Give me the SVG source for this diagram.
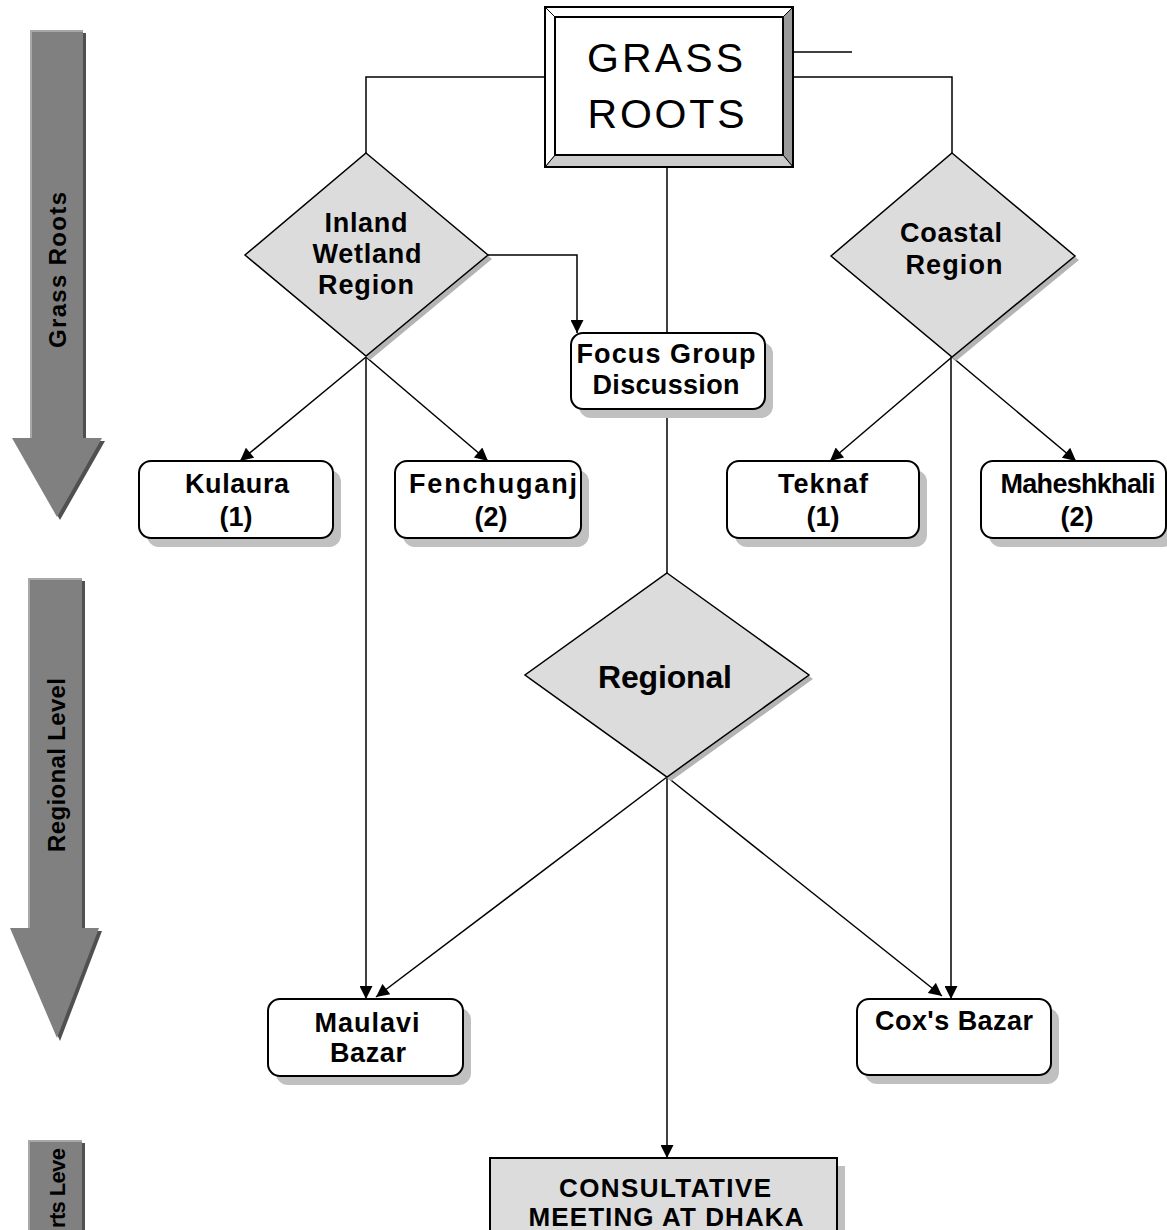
<svg xmlns="http://www.w3.org/2000/svg" width="1167" height="1230" viewBox="0 0 1167 1230">
<defs>
<marker id="ah" viewBox="0 0 10 10" refX="10" refY="5" markerWidth="15" markerHeight="13" markerUnits="userSpaceOnUse" orient="auto">
<path d="M0,0 L10,5 L0,10 z" fill="#000"/>
</marker>
<style>
.t{font-family:"Liberation Sans",Arial,sans-serif;font-weight:bold;font-size:27px;fill:#000;text-anchor:middle}
.big{font-family:"Liberation Sans",Arial,sans-serif;font-size:41px;fill:#000;text-anchor:middle}
.side{font-family:"Liberation Sans",Arial,sans-serif;font-weight:bold;font-size:24px;fill:#000;text-anchor:middle}
.box{fill:#fff;stroke:#000;stroke-width:2}
.sh{fill:#c0c0c0}
.dia{fill:#dcdcdc;stroke:#000;stroke-width:1.5}
.dsh{fill:#b4b4b4}
.ln{fill:none;stroke:#000;stroke-width:1.5}
.arr{fill:#808080}
.ash{fill:#505050}
.ahl{fill:#a8a8a8}
</style>
</defs>
<rect width="1167" height="1230" fill="#fff"/>

<g id="side-arrows">
<g id="arrow-grass">
<polygon class="ash" points="33,33 86,33 86,441 105,441 60,520 15,441 33,441"/>
<polygon class="arr" points="30,30 83,30 83,438 102,438 57,517 12,438 30,438"/>
<polygon class="ahl" points="30,30 83,30 83,32 32,32 32,438 30,438"/>
<text class="side" transform="translate(66,270) rotate(-90)" textLength="156" lengthAdjust="spacing">Grass Roots</text>
</g>
<g id="arrow-regional">
<polygon class="ash" points="31,581 85,581 85,931 102,931 60,1041 13,931 31,931"/>
<polygon class="arr" points="28,578 82,578 82,928 99,928 57,1038 10,928 28,928"/>
<polygon class="ahl" points="28,578 82,578 82,580 30,580 30,928 28,928"/>
<text class="side" transform="translate(65,765) rotate(-90)" textLength="174" lengthAdjust="spacing">Regional Level</text>
</g>
<g id="arrow-experts">
<rect class="ash" x="31" y="1143" width="54" height="90"/>
<rect class="arr" x="28" y="1140" width="54" height="92"/>
<rect class="ahl" x="28" y="1140" width="54" height="2"/>
<rect class="ahl" x="28" y="1140" width="2" height="92"/>
<text class="side" style="text-anchor:start;font-size:22px" transform="translate(65,1228) rotate(-90)" textLength="80" lengthAdjust="spacing">rts Leve</text>
</g>
</g>

<g id="connectors">
<path class="ln" d="M545,77 H366 V153"/>
<path class="ln" d="M793,77 H952 V153"/>
<path class="ln" d="M793,52 H852"/>
<path class="ln" d="M667,167 V333"/>
<path class="ln" d="M488,255 H577 V333" marker-end="url(#ah)"/>
<path class="ln" d="M366,357 L240,461" marker-end="url(#ah)"/>
<path class="ln" d="M366,357 L488,461" marker-end="url(#ah)"/>
<path class="ln" d="M366,357 V999" marker-end="url(#ah)"/>
<path class="ln" d="M952,357 L830,461" marker-end="url(#ah)"/>
<path class="ln" d="M952,357 L1076,461" marker-end="url(#ah)"/>
<path class="ln" d="M951,357 V999" marker-end="url(#ah)"/>
<path class="ln" d="M667,409 V573"/>
<path class="ln" d="M667,777 L376,997" marker-end="url(#ah)"/>
<path class="ln" d="M667,777 L942,996" marker-end="url(#ah)"/>
<path class="ln" d="M667,777 V1158" marker-end="url(#ah)"/>
</g>

<g id="grass-roots">
<rect x="545" y="7" width="248" height="160" fill="#fff" stroke="#000" stroke-width="2"/>
<polygon points="793,7 793,167 783,155 783,17" fill="#999" stroke="#000" stroke-width="1"/>
<polygon points="545,167 793,167 783,155 555,155" fill="#ccc" stroke="#000" stroke-width="1"/>
<polygon points="545,7 555,17 555,155 545,167" fill="#fff" stroke="#000" stroke-width="1"/>
<polygon points="545,7 793,7 783,17 555,17" fill="#fff" stroke="#000" stroke-width="1"/>
<rect x="555" y="17" width="228" height="138" fill="#fff" stroke="#000" stroke-width="2"/>
<rect x="545" y="7" width="248" height="160" fill="none" stroke="#000" stroke-width="2"/>
<text class="big" x="665" y="72" textLength="156" lengthAdjust="spacing">GRASS</text>
<text class="big" x="666" y="128" textLength="157" lengthAdjust="spacing">ROOTS</text>
</g>

<g id="inland">
<polygon class="dsh" points="370,157 492,259 370,360 249,259"/>
<polygon class="dia" points="366,153 488,255 366,356 245,255"/>
<text class="t" x="366" y="232" textLength="83" lengthAdjust="spacing">Inland</text>
<text class="t" x="367" y="263" textLength="109" lengthAdjust="spacing">Wetland</text>
<text class="t" x="366" y="294" textLength="96" lengthAdjust="spacing">Region</text>
</g>

<g id="coastal">
<polygon class="dsh" points="956,157 1079,260 956,361 835,260"/>
<polygon class="dia" points="952,153 1075,256 952,357 831,256"/>
<text class="t" x="951" y="242" textLength="102" lengthAdjust="spacing">Coastal</text>
<text class="t" x="954" y="274" textLength="97" lengthAdjust="spacing">Region</text>
</g>

<g id="focus-group">
<rect class="sh" x="579" y="342" width="194" height="76" rx="12"/>
<rect class="box" x="571" y="333" width="194" height="76" rx="12"/>
<text class="t" x="666" y="363" textLength="179" lengthAdjust="spacing">Focus Group</text>
<text class="t" x="666" y="394" textLength="147" lengthAdjust="spacing">Discussion</text>
</g>

<g id="kulaura">
<rect class="sh" x="147" y="470" width="194" height="77" rx="12"/>
<rect class="box" x="139" y="461" width="194" height="77" rx="12"/>
<text class="t" x="237" y="493" textLength="104" lengthAdjust="spacing">Kulaura</text>
<text class="t" x="236" y="526">(1)</text>
</g>

<g id="fenchuganj">
<rect class="sh" x="403" y="470" width="186" height="77" rx="12"/>
<rect class="box" x="395" y="461" width="186" height="77" rx="12"/>
<text class="t" x="493" y="493" textLength="168" lengthAdjust="spacing">Fenchuganj</text>
<text class="t" x="491" y="526">(2)</text>
</g>

<g id="teknaf">
<rect class="sh" x="735" y="470" width="192" height="77" rx="12"/>
<rect class="box" x="727" y="461" width="192" height="77" rx="12"/>
<text class="t" x="823" y="493" textLength="90" lengthAdjust="spacing">Teknaf</text>
<text class="t" x="823" y="526">(1)</text>
</g>

<g id="maheshkhali">
<rect class="sh" x="989" y="470" width="186" height="77" rx="12"/>
<rect class="box" x="981" y="461" width="185" height="77" rx="12"/>
<text class="t" x="1078" y="493" textLength="155" lengthAdjust="spacing">Maheshkhali</text>
<text class="t" x="1077" y="526">(2)</text>
</g>

<g id="regional">
<polygon class="dsh" points="671,577 813,679 671,781 529,679"/>
<polygon class="dia" points="667,573 809,675 667,777 525,675"/>
<text class="t" style="font-size:32px" x="665" y="688" textLength="134" lengthAdjust="spacing">Regional</text>
</g>

<g id="maulavi-bazar">
<rect class="sh" x="276" y="1008" width="195" height="77" rx="12"/>
<rect class="box" x="268" y="999" width="195" height="77" rx="12"/>
<text class="t" x="367" y="1032" textLength="105" lengthAdjust="spacing">Maulavi</text>
<text class="t" x="368" y="1062" textLength="76" lengthAdjust="spacing">Bazar</text>
</g>

<g id="coxs-bazar">
<rect class="sh" x="865" y="1008" width="194" height="76" rx="12"/>
<rect class="box" x="857" y="999" width="194" height="76" rx="12"/>
<text class="t" x="954" y="1030" textLength="158" lengthAdjust="spacing">Cox's Bazar</text>
</g>

<g id="consultative">
<rect class="sh" x="498" y="1166" width="347" height="70"/>
<rect x="490" y="1158" width="347" height="80" fill="#dcdcdc" stroke="#000" stroke-width="2"/>
<text class="t" style="font-size:26px" x="665" y="1197" textLength="212" lengthAdjust="spacing">CONSULTATIVE</text>
<text class="t" style="font-size:26px" x="666" y="1226" textLength="275" lengthAdjust="spacing">MEETING AT DHAKA</text>
</g>
</svg>
